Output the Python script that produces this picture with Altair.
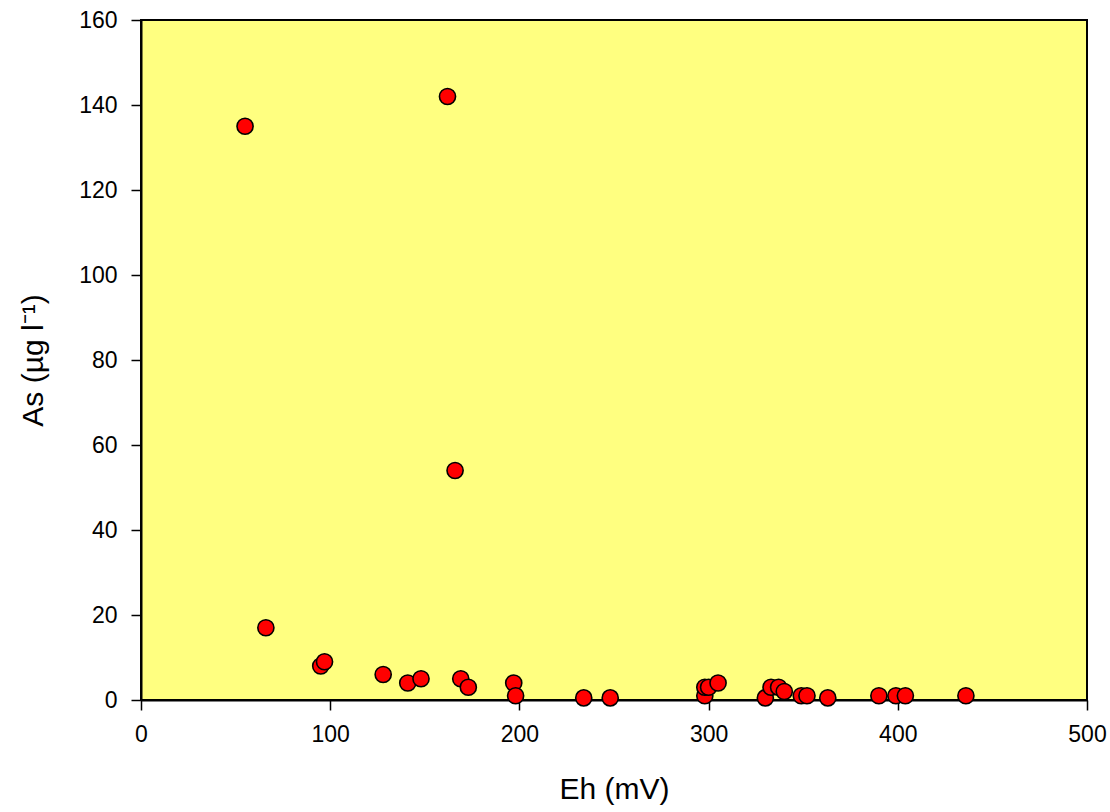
import altair as alt
import pandas as pd

eh = [55, 162, 166, 66, 95, 97, 128, 141, 148, 169, 173, 197, 198, 234, 248,
      298, 298, 300, 305, 330, 333, 337, 340, 349, 352, 363, 390, 399, 404, 436]
as_vals = [135, 142, 54, 17, 8, 9, 6, 4, 5, 5, 3, 4, 1, 0.5, 0.5,
           1, 3, 3, 4, 0.5, 3, 3, 2, 1, 1, 0.5, 1, 1, 1, 1]

df = pd.DataFrame({"Eh": eh, "As": as_vals})

chart = alt.Chart(df).mark_circle(
    size=260, color="#FF0000", stroke="black", strokeWidth=1.6, opacity=1
).encode(
    x=alt.X("Eh:Q", scale=alt.Scale(domain=[0, 500], nice=False),
            axis=alt.Axis(values=[0, 100, 200, 300, 400, 500], title="Eh (mV)",
                          titlePadding=28, labelPadding=13)),
    y=alt.Y("As:Q", scale=alt.Scale(domain=[0, 160], nice=False),
            axis=alt.Axis(values=[0, 20, 40, 60, 80, 100, 120, 140, 160],
                          title="As (µg l⁻¹)", titlePadding=30, labelPadding=14)),
).properties(
    width=946, height=680,
    autosize=alt.AutoSizeParams(type="none"),
    padding={"left": 141, "top": 20, "right": 23, "bottom": 112},
).configure_view(
    fill="#FFFF80", stroke="black", strokeWidth=2
).configure_axis(
    grid=False, domainColor="black", domainWidth=2, tickColor="black",
    tickSize=10, tickWidth=1.5, labelFont="Liberation Sans", labelFontSize=23,
    labelColor="black", titleFont="Liberation Sans", titleFontSize=30,
    titleFontWeight="normal", titleColor="black", labelFlush=False
)

chart.save("out.html", embed_options={"renderer": "svg", "actions": False})
